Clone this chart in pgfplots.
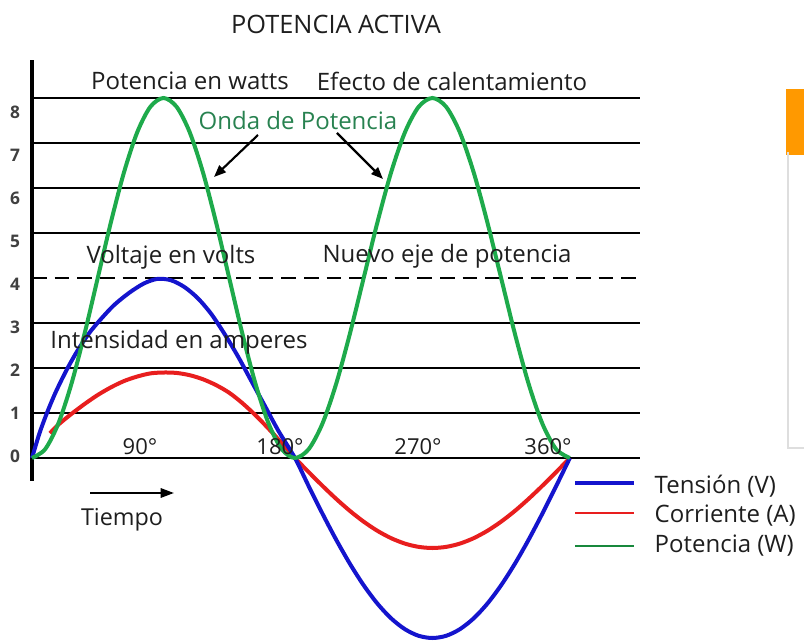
\documentclass[border=0pt]{standalone}
\usepackage{fontspec}
\setmainfont{Open Sans}
\usepackage{pgfplots}
\pgfplotsset{compat=1.18}
\usetikzlibrary{arrows.meta}
\definecolor{vblue}{RGB}{20,20,205}
\definecolor{ared}{RGB}{232,30,30}
\definecolor{pgreen}{RGB}{30,170,75}
\definecolor{tgreen}{RGB}{40,130,80}
\definecolor{txt}{RGB}{30,30,30}
\definecolor{boxorange}{RGB}{255,153,0}

\begin{document}
\begin{tikzpicture}
\begin{axis}[
    at={(0,0)}, anchor=south west,
    scale only axis,
    width=603pt, height=482.25pt,
    xmin=-21.42, xmax=516.73,
    ymin=-4.111, ymax=10.178,
    hide axis,
    clip=false,
]
% horizontal reference lines
\draw[line width=2pt] (axis cs:0,0) -- (axis cs:407,0);
\draw[line width=2pt] (axis cs:0,1) -- (axis cs:407,1);
\draw[line width=2pt] (axis cs:0,2) -- (axis cs:407,2);
\draw[line width=2pt] (axis cs:0,3) -- (axis cs:407,3);
\draw[line width=2pt, dash pattern=on 11pt off 6pt] (axis cs:0,4) -- (axis cs:407,4);
\draw[line width=2pt] (axis cs:0,5) -- (axis cs:407,5);
\draw[line width=2pt] (axis cs:0,6) -- (axis cs:407,6);
\draw[line width=2pt] (axis cs:0,7) -- (axis cs:407,7);
\draw[line width=2pt] (axis cs:0,8) -- (axis cs:407,8);
\draw[line width=2.3pt] (axis cs:0,-0.5) -- (axis cs:0,8.84);

% corriente (A)
\addplot[ared, line width=3pt, smooth] coordinates {
    (12,0.55) (17.6,0.74) (26.4,0.98) (35.2,1.20) (44,1.40) (52.8,1.57)
    (61.6,1.71) (70.4,1.81) (79.2,1.88) (88,1.90) (96.8,1.89) (105.6,1.84)
    (114.4,1.75) (123.2,1.62) (132,1.45) (140.8,1.22) (149.6,0.95)
    (158.4,0.65) (167.2,0.33) (176,0)
    (185.2,-0.313) (194.4,-0.618) (203.6,-0.908) (212.8,-1.176) (222,-1.414)
    (231.2,-1.618) (240.4,-1.782) (249.6,-1.902) (258.8,-1.975) (268,-2.0)
    (277.2,-1.975) (286.4,-1.902) (295.6,-1.782) (304.8,-1.618) (314,-1.414)
    (323.2,-1.176) (332.4,-0.908) (341.6,-0.618) (350.8,-0.313) (360,0)
};
% tension (V)
\addplot[vblue, line width=3pt, smooth] coordinates {
    (0,0) (5,0.55) (10,1.0) (15,1.4) (20,1.75) (25,2.07) (30,2.36) (35,2.62)
    (40,2.85) (47,3.12) (55,3.40) (65,3.67) (75,3.88) (84,3.98) (93,3.95)
    (102,3.80) (111,3.55) (120,3.2) (129,2.75) (138,2.25) (147,1.7)
    (156,1.15) (165,0.6) (176,0)
    (185.2,-0.626) (194.4,-1.236) (203.6,-1.816) (212.8,-2.351) (222,-2.828)
    (231.2,-3.236) (240.4,-3.564) (249.6,-3.804) (258.8,-3.951) (268,-4.0)
    (277.2,-3.951) (286.4,-3.804) (295.6,-3.564) (304.8,-3.236) (314,-2.828)
    (323.2,-2.351) (332.4,-1.816) (341.6,-1.236) (350.8,-0.626) (360,0)
};
% potencia (W)
\addplot[pgreen, line width=3pt, smooth] coordinates {
    (0,0) (8.8,0.196) (17.6,0.764) (26.4,1.649) (35.2,2.764) (44,4.0)
    (52.8,5.236) (61.6,6.351) (70.4,7.236) (79.2,7.804) (88,8.0)
    (96.8,7.804) (105.6,7.236) (114.4,6.351) (123.2,5.236) (132,4.0)
    (140.8,2.764) (149.6,1.649) (158.4,0.764) (167.2,0.196) (176,0)
    (185.2,0.196) (194.4,0.764) (203.6,1.649) (212.8,2.764) (222,4.0)
    (231.2,5.236) (240.4,6.351) (249.6,7.236) (258.8,7.804) (268,8.0)
    (277.2,7.804) (286.4,7.236) (295.6,6.351) (304.8,5.236) (314,4.0)
    (323.2,2.764) (332.4,1.649) (341.6,0.764) (350.8,0.196) (360,0)
};
\end{axis}

% annotations, in pixel units of the reference
\begin{scope}[x=0.75pt, y=-0.75pt, shift={(0pt,482.25pt)}, text=txt]
\node[font=\fontsize{19}{21}\selectfont] at (336,24) {POTENCIA ACTIVA};
\node[font=\fontsize{18}{20}\selectfont] at (190,81) {Potencia en watts};
\node[font=\fontsize{18}{20}\selectfont] at (452,81) {Efecto de calentamiento};
\node[font=\fontsize{18}{20}\selectfont, text=tgreen] at (298,121) {Onda de Potencia};
\node[font=\fontsize{18}{20}\selectfont] at (171,257) {Voltaje en volts};
\node[font=\fontsize{18}{20}\selectfont] at (447,256) {Nuevo eje de potencia};
\node[font=\fontsize{18}{20}\selectfont] at (179,342) {Intensidad en amperes};
\node[font=\fontsize{16.5}{18}\selectfont] at (140,447) {90°};
\node[font=\fontsize{16.5}{18}\selectfont] at (280,447) {180°};
\node[font=\fontsize{16.5}{18}\selectfont] at (418,447) {270°};
\node[font=\fontsize{16.5}{18}\selectfont] at (548,447) {360°};
\node[font=\fontsize{17.5}{19}\selectfont] at (122,520) {Tiempo};
\draw[-{Triangle[length=9pt,width=7pt]}, line width=1.6pt] (258,135) -- (214,177);
\draw[-{Triangle[length=9pt,width=7pt]}, line width=1.6pt] (337,133) -- (383,179);
\draw[-{Triangle[length=10pt,width=7pt]}, line width=1.6pt] (90,493) -- (174,493);
% y labels
\foreach \v [count=\i from 0] in {0,1,2,3,4,5,6,7,8}
  \node[font=\fontsize{13}{15}\selectfont\bfseries, text=txt!85] at (15,{456-43*\i}) {\v};
% legend
\draw[vblue, line width=3pt] (575,483) -- (634,483);
\draw[ared, line width=1.6pt] (575,513) -- (634,513);
\draw[pgreen!80!black, line width=2pt] (575,546) -- (634,546);
\node[font=\fontsize{18}{20}\selectfont, anchor=west] at (650,486) {Tensión (V)};
\node[font=\fontsize{18}{20}\selectfont, anchor=west] at (650,516) {Corriente (A)};
\node[font=\fontsize{18}{20}\selectfont, anchor=west] at (650,546) {Potencia (W)};
% frame fragment on the right
\fill[boxorange] (786,89) rectangle (804,155);
\draw[black!13, line width=1.5pt] (788,152) -- (788,448) -- (804,448);
\end{scope}
\pgfresetboundingbox
\useasboundingbox (0,0) rectangle (603pt,482.25pt);
\end{tikzpicture}
\end{document}
